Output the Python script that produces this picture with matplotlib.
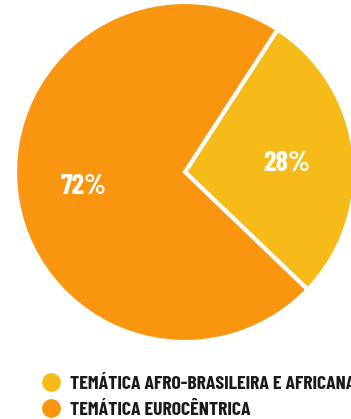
import matplotlib
matplotlib.use("Agg")
import matplotlib.pyplot as plt
from matplotlib import transforms

labels = ["TEMÁTICA AFRO-BRASILEIRA E AFRICANA", "TEMÁTICA EUROCÊNTRICA"]
values = [28, 72]
colors = ["#F6BB19", "#FA950F"]

W, H = 351, 419
fig = plt.figure(figsize=(W / 100, H / 100), dpi=100)
fam = ["Barlow Condensed", "DejaVu Sans"]

cx, cy, r = 185, 172, 170
ax = fig.add_axes([(cx - r) / W, 1 - (cy + r) / H, 2 * r / W, 2 * r / H])
wedges, texts, autotexts = ax.pie(
    values, colors=colors, startangle=57, counterclock=False,
    autopct=lambda p: f"{p:.0f}%", pctdistance=0.6,
    wedgeprops=dict(edgecolor="white", linewidth=3),
    textprops=dict(color="white", fontsize=20.5, family=fam, fontweight="bold"),
)
for t in autotexts:
    t.set_va("baseline")
    t.set_transform(transforms.offset_copy(t.get_transform(), fig=fig, x=0, y=-10.5, units="dots"))
for w in wedges:
    w.set_clip_on(False)
ax.set_xlim(-1, 1)
ax.set_ylim(-1, 1)
ax.set_aspect("equal")
ax.axis("off")

lax = fig.add_axes([0, 0, 1, 1])
lax.set_xlim(0, W)
lax.set_ylim(H, 0)
lax.axis("off")
ys = [382, 408]
for lab, col, y in zip(labels, colors, ys):
    lax.scatter([51], [y], s=13.5 ** 2, color=col, clip_on=False, linewidths=0)
    lax.text(70, y + 7, lab, fontsize=14.2, family=fam, fontweight="bold",
             color="#1a1a1a", va="baseline", ha="left", clip_on=False)

fig.savefig("out.png", dpi=100)
